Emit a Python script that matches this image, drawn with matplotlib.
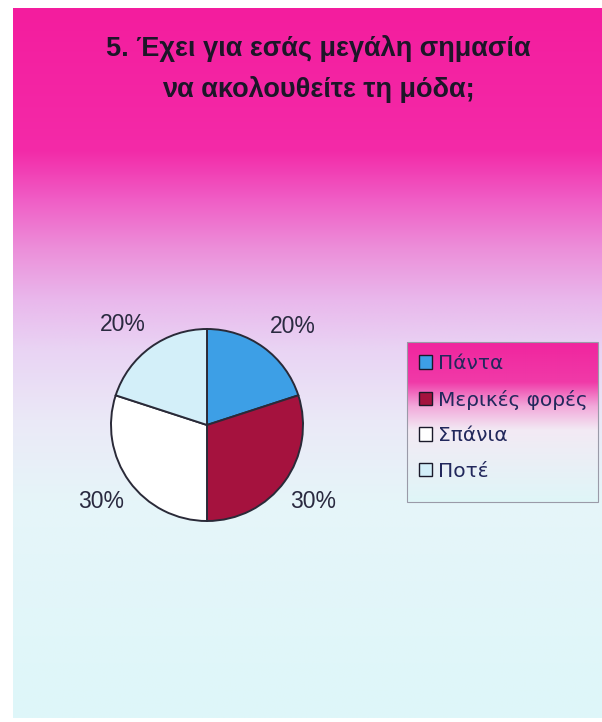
import numpy as np
import matplotlib
matplotlib.use("Agg")
import matplotlib.pyplot as plt
from matplotlib.colors import to_rgb
from matplotlib.patches import Rectangle

plt.rcParams['font.family'] = ['Liberation Sans', 'DejaVu Sans']

# Survey answers and their shares (%)
categories = ["Πάντα", "Μερικές φορές", "Σπάνια", "Ποτέ"]
shares = [20, 30, 30, 20]
slice_colors = ["#3d9fe6", "#a5123e", "#ffffff", "#d3eff9"]
title_text = "5. Έχει για εσάς μεγάλη σημασία\nνα ακολουθείτε τη μόδα;"

W, H = 602, 722
fig = plt.figure(figsize=(W / 100, H / 100), dpi=100)
fig.patch.set_facecolor("white")

# Background canvas in pixel coordinates
bg = fig.add_axes([0, 0, 1, 1])
bg.axis("off")


def vertical_gradient(ax, x0, x1, y0, y1, stops):
    ys = np.linspace(0, 1, 400)
    pos = [s[0] for s in stops]
    cols = np.array([to_rgb(s[1]) for s in stops])
    img = np.stack([np.interp(ys, pos, cols[:, k]) for k in range(3)], axis=-1)
    img = np.repeat(img[:, None, :], 2, axis=1)
    ax.imshow(img, extent=(x0, x1, y1, y0), aspect="auto",
              interpolation="bilinear", zorder=0)


# Page panel: magenta fading through lilac to pale cyan
page_top, page_bot = 8, 718
span = page_bot - page_top
page_stops = [(8, "#f41d9e"), (150, "#f32aa8"), (200, "#f05ec6"),
              (250, "#ec90da"), (300, "#e9b8ec"), (350, "#e9d4f4"),
              (420, "#ebe9f7"), (500, "#e6f5f9"), (718, "#def7f9")]
vertical_gradient(bg, 13, 602, page_top, page_bot,
                  [((y - page_top) / span, c) for y, c in page_stops])

# Legend box with its own gradient
lx0, lx1, ly0, ly1 = 407, 598, 342, 502
vertical_gradient(bg, lx0, lx1, ly0, ly1, [
    (0.0, "#f0259e"),
    (0.25, "#f03aa8"),
    (0.40, "#f2a8da"),
    (0.55, "#f3eaf4"),
    (1.0, "#dff6f8"),
])
bg.add_patch(Rectangle((lx0, ly0), lx1 - lx0, ly1 - ly0, fill=False,
                       edgecolor="#9a9aa8", linewidth=0.8, zorder=2))
bg.set_xlim(0, W)
bg.set_ylim(H, 0)

# Title
fig.text(318 / W, 1 - 69 / H, title_text, ha="center", va="center",
         fontsize=19.5, fontweight="bold", color="#1c1628", linespacing=1.62)

# Pie chart
cx, cy, r = 207, 425, 96
pie_ax = fig.add_axes([(cx - r) / W, 1 - (cy + r) / H, 2 * r / W, 2 * r / H])
pie_ax.set_facecolor("none")
wedges, texts, autotexts = pie_ax.pie(
    shares, colors=slice_colors, startangle=90, counterclock=False,
    autopct=lambda p: f"{p:.0f}%", pctdistance=1.36,
    wedgeprops=dict(edgecolor="#2a2a38", linewidth=1.4),
    textprops=dict(fontsize=16.5, color="#2a2a40"),
)
pie_ax.set_xlim(-1, 1)
pie_ax.set_ylim(-1, 1)
pie_ax.set_aspect("equal")

# Spread the upper labels slightly away from the vertical seam
nudge = [-5, 0, 0, 4]
for w, t, d in zip(wedges, autotexts, nudge):
    ang = np.deg2rad((w.theta1 + w.theta2) / 2 + d)
    t.set_position((1.36 * np.cos(ang), 1.36 * np.sin(ang)))

# Legend
leg = fig.legend(
    wedges, categories, loc="upper left",
    bbox_to_anchor=(403 / W, 1 - 338 / H), frameon=False,
    prop=dict(family="DejaVu Sans", size=14.5),
    handlelength=0.65, handleheight=0.65, handletextpad=0.3,
    labelspacing=0.82, borderpad=0.3,
)
for t in leg.get_texts():
    t.set_color("#22285c")
for h in leg.legend_handles:
    h.set_edgecolor("#1a1a2a")
    h.set_linewidth(1.0)

fig.savefig("out.png", dpi=100, facecolor=fig.get_facecolor())
